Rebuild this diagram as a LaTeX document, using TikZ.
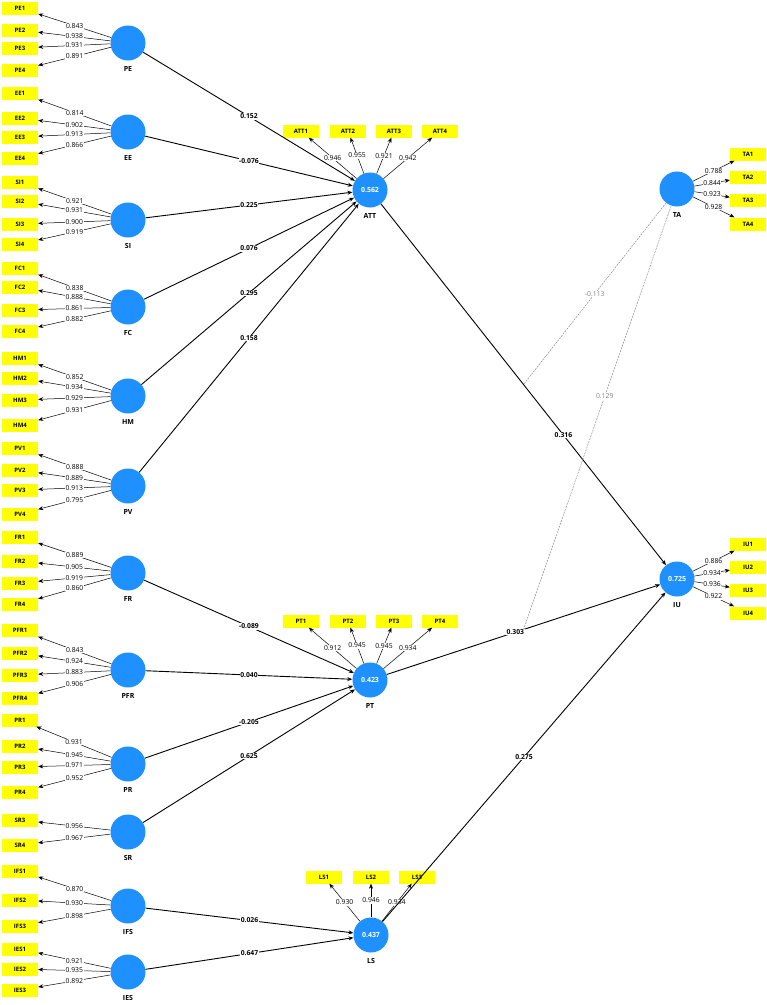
\documentclass[tikz,border=0pt]{standalone}
\usepackage{fontspec}
\setmainfont{Open Sans}
\usetikzlibrary{arrows.meta,positioning,calc}
\definecolor{lvblue}{RGB}{30,144,255}
\definecolor{indyellow}{RGB}{255,255,0}

\begin{document}
\begin{tikzpicture}[x=1pt,y=-1pt,
  lv/.style={circle,fill=lvblue,minimum size=35pt,inner sep=0pt,text=white,font=\bfseries\fontsize{7}{8}\selectfont},
  ind/.style={fill=indyellow,minimum width=36pt,minimum height=13pt,inner sep=0pt,font=\bfseries\fontsize{6}{7}\selectfont},
  lvname/.style={below=5.5pt,inner sep=0pt,font=\bfseries\fontsize{7}{8}\selectfont},
  ld/.style={fill=white,inner sep=0.6pt,font=\fontsize{6.8}{7}\selectfont},
  pc/.style={fill=white,inner sep=0.6pt,font=\bfseries\fontsize{6.8}{7}\selectfont},
  md/.style={fill=white,inner sep=0.6pt,text=gray,font=\fontsize{6.8}{7}\selectfont},
  arr/.style={-{Stealth[length=5pt,width=4pt]}}]

     \useasboundingbox (0,0) rectangle (767,1005);

     % latent variables
     \node[lv] (PE) at (128,43) {};
     \node[lv] (EE) at (128,132) {};
     \node[lv] (SI) at (128,220) {};
     \node[lv] (FC) at (128,307) {};
     \node[lv] (HM) at (128,396) {};
     \node[lv] (PV) at (128,486) {};
     \node[lv] (FR) at (128,573) {};
     \node[lv] (PFR) at (128,670) {};
     \node[lv] (PR) at (128,764) {};
     \node[lv] (SR) at (128,832) {};
     \node[lv] (IFS) at (128,906) {};
     \node[lv] (IES) at (128,972) {};
     \node[lv] (ATT) at (370,190) {0.562};
     \node[lv] (PT) at (370,680) {0.423};
     \node[lv] (LS) at (371,935) {0.437};
     \node[lv] (TA) at (677,189) {};
     \node[lv] (IU) at (677,579) {0.725};

     \node[lvname] (PEn) at (PE.south) {PE};
     \node[lvname] (EEn) at (EE.south) {EE};
     \node[lvname] (SIn) at (SI.south) {SI};
     \node[lvname] (FCn) at (FC.south) {FC};
     \node[lvname] (HMn) at (HM.south) {HM};
     \node[lvname] (PVn) at (PV.south) {PV};
     \node[lvname] (FRn) at (FR.south) {FR};
     \node[lvname] (PFRn) at (PFR.south) {PFR};
     \node[lvname] (PRn) at (PR.south) {PR};
     \node[lvname] (SRn) at (SR.south) {SR};
     \node[lvname] (IFSn) at (IFS.south) {IFS};
     \node[lvname] (IESn) at (IES.south) {IES};
     \node[lvname] (ATTn) at (ATT.south) {ATT};
     \node[lvname] (PTn) at (PT.south) {PT};
     \node[lvname] (LSn) at (LS.south) {LS};
     \node[lvname] (TAn) at (TA.south) {TA};
     \node[lvname] (IUn) at (IU.south) {IU};

     % indicators
     \node[ind] (PE1) at (20,8) {PE1};
     \node[ind] (PE2) at (20,30) {PE2};
     \node[ind] (PE3) at (20,48) {PE3};
     \node[ind] (PE4) at (20,70) {PE4};
     \node[ind] (EE1) at (20,93) {EE1};
     \node[ind] (EE2) at (20,118) {EE2};
     \node[ind] (EE3) at (20,137) {EE3};
     \node[ind] (EE4) at (20,158) {EE4};
     \node[ind] (SI1) at (20,182) {SI1};
     \node[ind] (SI2) at (20,201) {SI2};
     \node[ind] (SI3) at (20,224) {SI3};
     \node[ind] (SI4) at (20,244) {SI4};
     \node[ind] (FC1) at (20,268) {FC1};
     \node[ind] (FC2) at (20,287) {FC2};
     \node[ind] (FC3) at (20,310) {FC3};
     \node[ind] (FC4) at (20,331) {FC4};
     \node[ind] (HM1) at (20,358) {HM1};
     \node[ind] (HM2) at (20,378) {HM2};
     \node[ind] (HM3) at (20,400) {HM3};
     \node[ind] (HM4) at (20,425) {HM4};
     \node[ind] (PV1) at (20,448) {PV1};
     \node[ind] (PV2) at (20,470) {PV2};
     \node[ind] (PV3) at (20,490) {PV3};
     \node[ind] (PV4) at (20,514) {PV4};
     \node[ind] (FR1) at (20,537) {FR1};
     \node[ind] (FR2) at (20,561) {FR2};
     \node[ind] (FR3) at (20,583) {FR3};
     \node[ind] (FR4) at (20,604) {FR4};
     \node[ind] (PFR1) at (20,630) {PFR1};
     \node[ind] (PFR2) at (20,653) {PFR2};
     \node[ind] (PFR3) at (20,675) {PFR3};
     \node[ind] (PFR4) at (20,698) {PFR4};
     \node[ind] (PR1) at (20,720) {PR1};
     \node[ind] (PR2) at (20,746) {PR2};
     \node[ind] (PR3) at (20,767) {PR3};
     \node[ind] (PR4) at (20,792) {PR4};
     \node[ind] (SR3) at (20,820) {SR3};
     \node[ind] (SR4) at (20,845) {SR4};
     \node[ind] (IFS1) at (20,871) {IFS1};
     \node[ind] (IFS2) at (20,900) {IFS2};
     \node[ind] (IFS3) at (20,926) {IFS3};
     \node[ind] (IES1) at (20,949) {IES1};
     \node[ind] (IES2) at (20,969) {IES2};
     \node[ind] (IES3) at (20,990) {IES3};

     \node[ind] (ATT1) at (301,131) {ATT1};
     \node[ind] (ATT2) at (348,131) {ATT2};
     \node[ind] (ATT3) at (394,131) {ATT3};
     \node[ind] (ATT4) at (440,131) {ATT4};
     \node[ind] (PT1) at (301,621) {PT1};
     \node[ind] (PT2) at (348,621) {PT2};
     \node[ind] (PT3) at (394,621) {PT3};
     \node[ind] (PT4) at (440,621) {PT4};
     \node[ind] (LS1) at (324,877) {LS1};
     \node[ind] (LS2) at (371,877) {LS2};
     \node[ind] (LS3) at (417,877) {LS3};
     \node[ind] (TA1) at (748,154) {TA1};
     \node[ind] (TA2) at (748,177) {TA2};
     \node[ind] (TA3) at (748,200) {TA3};
     \node[ind] (TA4) at (748,224) {TA4};
     \node[ind] (IU1) at (748,544) {IU1};
     \node[ind] (IU2) at (748,567) {IU2};
     \node[ind] (IU3) at (748,590) {IU3};
     \node[ind] (IU4) at (748,613) {IU4};

     % outer loadings
     \path[arr,draw,line width=0.5pt]
     (PE) edge node[ld] {0.843} (PE1) edge node[ld] {0.938} (PE2) edge node[ld] {0.931} (PE3) edge node[ld] {0.891} (PE4)
     (EE) edge node[ld] {0.814} (EE1) edge node[ld] {0.902} (EE2) edge node[ld] {0.913} (EE3) edge node[ld] {0.866} (EE4)
     (SI) edge node[ld] {0.921} (SI1) edge node[ld] {0.931} (SI2) edge node[ld] {0.900} (SI3) edge node[ld] {0.919} (SI4)
     (FC) edge node[ld] {0.838} (FC1) edge node[ld] {0.888} (FC2) edge node[ld] {0.861} (FC3) edge node[ld] {0.882} (FC4)
     (HM) edge node[ld] {0.852} (HM1) edge node[ld] {0.934} (HM2) edge node[ld] {0.929} (HM3) edge node[ld] {0.931} (HM4)
     (PV) edge node[ld] {0.888} (PV1) edge node[ld] {0.889} (PV2) edge node[ld] {0.913} (PV3) edge node[ld] {0.795} (PV4)
     (FR) edge node[ld] {0.889} (FR1) edge node[ld] {0.905} (FR2) edge node[ld] {0.919} (FR3) edge node[ld] {0.860} (FR4)
     (PFR) edge node[ld] {0.843} (PFR1) edge node[ld] {0.924} (PFR2) edge node[ld] {0.883} (PFR3) edge node[ld] {0.906} (PFR4)
     (PR) edge node[ld] {0.931} (PR1) edge node[ld] {0.945} (PR2) edge node[ld] {0.971} (PR3) edge node[ld] {0.952} (PR4)
     (SR) edge node[ld] {0.956} (SR3) edge node[ld] {0.967} (SR4)
     (IFS) edge node[ld] {0.870} (IFS1) edge node[ld] {0.930} (IFS2) edge node[ld] {0.898} (IFS3)
     (IES) edge node[ld] {0.921} (IES1) edge node[ld] {0.935} (IES2) edge node[ld] {0.892} (IES3)
     (ATT) edge node[ld] {0.946} (ATT1) edge node[ld] {0.955} (ATT2) edge node[ld] {0.921} (ATT3) edge node[ld] {0.942} (ATT4)
     (PT) edge node[ld] {0.912} (PT1) edge node[ld] {0.945} (PT2) edge node[ld] {0.945} (PT3) edge node[ld] {0.934} (PT4)
     (LS) edge node[ld] {0.930} (LS1) edge node[ld] {0.946} (LS2) edge node[ld] {0.934} (LS3)
     (TA) edge node[ld] {0.788} (TA1) edge node[ld] {0.844} (TA2) edge node[ld] {0.923} (TA3) edge node[ld] {0.928} (TA4)
     (IU) edge node[ld] {0.886} (IU1) edge node[ld] {0.934} (IU2) edge node[ld] {0.936} (IU3) edge node[ld] {0.922} (IU4)
     ;

     % inner model
     \path[arr,draw,line width=0.9pt]
     (PE) edge node[pc] {0.152} (ATT)
     (EE) edge node[pc] {-0.076} (ATT)
     (SI) edge node[pc] {0.225} (ATT)
     (FC) edge node[pc] {0.076} (ATT)
     (HM) edge node[pc] {0.295} (ATT)
     (PV) edge node[pc] {0.158} (ATT)
     (FR) edge node[pc] {-0.089} (PT)
     (PFR) edge node[pc] {0.040} (PT)
     (PR) edge node[pc] {-0.205} (PT)
     (SR) edge node[pc] {0.625} (PT)
     (IFS) edge node[pc] {0.026} (LS)
     (IES) edge node[pc] {0.647} (LS)
     (ATT) edge node[pc,pos=0.64] {0.316} (IU)
     (PT) edge node[pc,pos=0.47] {0.303} (IU)
     (LS) edge node[pc] {0.275} (IU)
     ;

     % moderating effects
     \coordinate (m1) at ($(ATT)!0.5!(IU)$);
     \coordinate (m2) at ($(PT)!0.5!(IU)$);
     \path[draw,gray,line width=0.45pt,dash pattern=on 2pt off 1pt]
     (TA) edge node[md] {-0.113} (m1)
     (TA) edge node[md,pos=0.45] {0.129} (m2)
     ;
\end{tikzpicture}
\end{document}
